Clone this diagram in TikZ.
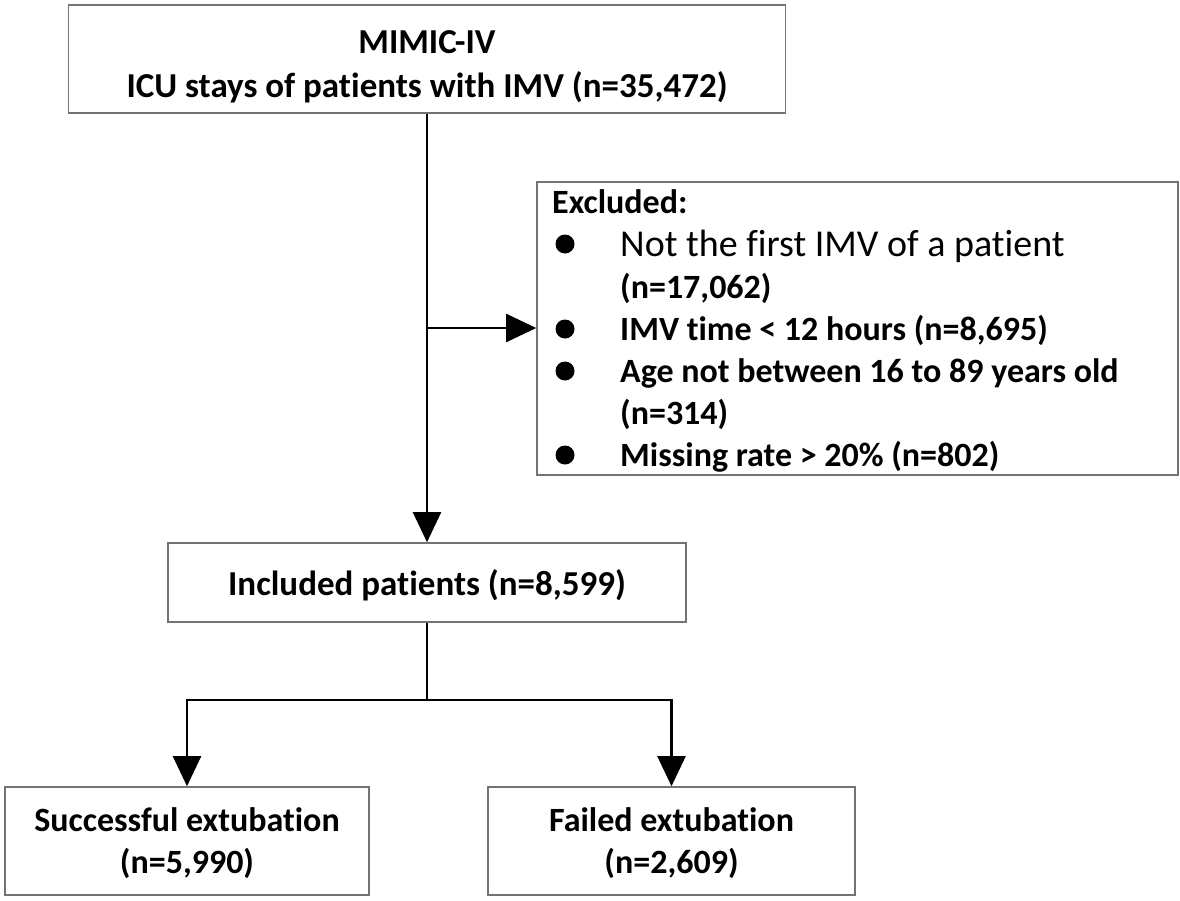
\documentclass[tikz,border=0pt]{standalone}
\usepackage{fontspec}
\setmainfont{Carlito}[Ligatures=NoCommon]
\usetikzlibrary{arrows.meta}
\begin{document}
\begin{tikzpicture}[x=1pt,y=-1pt,
  box/.style={draw=black!55, line width=1.6pt, inner sep=0pt, align=center,
    font=\bfseries\fontsize{35}{44}\selectfont},
  conn/.style={line width=2.2pt, black},
  arr/.style={conn, -{Triangle[length=30pt,width=28pt]}},
  txt/.style={anchor=base west, inner sep=0pt, font=\bfseries\fontsize{34}{40}\selectfont},
  txtreg/.style={anchor=base west, inner sep=0pt, font=\fontsize{38}{44}\selectfont},
  dot/.style={circle, fill=black, inner sep=0pt, minimum size=19pt}]
\useasboundingbox (0,0) rectangle (1180,900);
% boxes
\node[box, minimum width=717pt, minimum height=108pt, text height=80pt, text depth=4pt] (top) at (427,59)
  {MIMIC-IV\\ICU stays of patients with IMV (n=35,472)};
\node[box, minimum width=641pt, minimum height=293pt] (excl) at (857.5,328.5) {};
\node[box, minimum width=518pt, minimum height=79pt, text height=30pt, text depth=5pt] (incl) at (427,582.5)
  {Included patients (n=8,599)};
\node[box, minimum width=364pt, minimum height=108pt, text height=70pt, text depth=6pt,
  font=\bfseries\fontsize{34}{42}\selectfont] (succ) at (187,841)
  {Successful extubation\\(n=5,990)};
\node[box, minimum width=367pt, minimum height=108pt, text height=70pt, text depth=6pt,
  font=\bfseries\fontsize{34}{42}\selectfont] (fail) at (671.5,841)
  {Failed extubation\\(n=2,609)};
% excluded contents
\node[txt] (exh) at (552,213) {Excluded:};
\node[dot] (d1) at (565,244) {};
\node[txtreg] (e1) at (620,256) {Not the first IMV of a patient};
\node[txt] (e1b) at (620,298) {(n=17,062)};
\node[dot] (d2) at (565,329) {};
\node[txt] (e2) at (620,340) {IMV time < 12 hours (n=8,695)};
\node[dot] (d3) at (565,371) {};
\node[txt] (e3) at (620,382) {Age not between 16 to 89 years old};
\node[txt] (e3b) at (620,424) {(n=314)};
\node[dot] (d4) at (565,455) {};
\node[txt] (e4) at (620,466) {Missing rate > 20\% (n=802)};
% connectors
\coordinate (split) at (427,328);
\coordinate (fork) at (427,700);
\draw[arr] (top.south) -- (incl.north);
\draw[arr] (split) -- (excl.west |- split);
\draw[conn] (incl.south) -- (fork);
\draw[arr] (fork) -| (succ.north);
\draw[arr] (fork) -| (fail.north);
\end{tikzpicture}
\end{document}
